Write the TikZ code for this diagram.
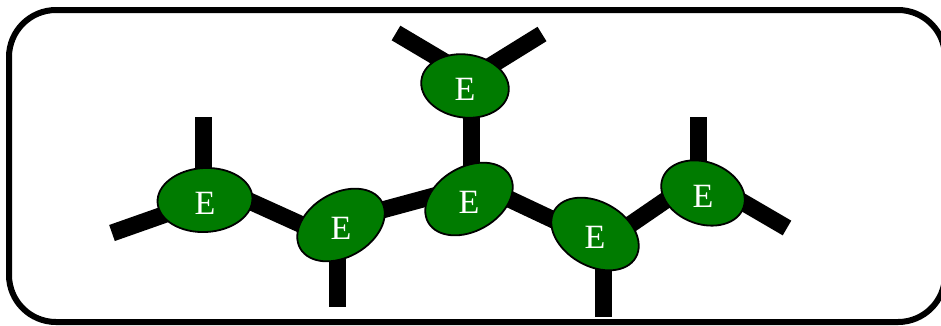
\documentclass[tikz,border=0pt]{standalone}
\usepackage{fontspec}
\setmainfont{Liberation Serif}
\usetikzlibrary{shapes.geometric,calc}
\pgfdeclarelayer{bg}
\pgfsetlayers{bg,main}
\definecolor{leafgreen}{RGB}{0,123,0}
\begin{document}
\begin{tikzpicture}[x=1pt,y=-1pt,
  blob/.style={ellipse, draw=black, line width=1.8pt, fill=leafgreen, inner sep=0pt},
  lbl/.style={text=white, font=\fontsize{34}{40}\selectfont, inner sep=0pt, yshift=-3pt},
  bond/.style={line width=17pt}]
\useasboundingbox (0,0) rectangle (941,325);
% frame
\draw[line width=6pt, rounded corners=47pt] (9,10) rectangle (945,322);

% units
\node[blob, minimum width=95pt, minimum height=64pt, rotate=3]   (E1) at (205,200) {};
\node[blob, minimum width=94pt, minimum height=64pt, rotate=30]  (E2) at (341,225) {};
\node[blob, minimum width=94pt, minimum height=64pt, rotate=30]  (E3) at (469,199) {};
\node[blob, minimum width=88pt, minimum height=63pt, rotate=-8]  (E4) at (465,86) {};
\node[blob, minimum width=94pt, minimum height=64pt, rotate=-30] (E5) at (595,234) {};
\node[blob, minimum width=86pt, minimum height=62pt, rotate=-20] (E6) at (703,193) {};

\foreach \n in {1,...,6} \node[lbl] (L\n) at (E\n.center) {E};

% free ends of the side arms
\coordinate (a1) at (203,117);
\coordinate (b1) at (112,233);
\coordinate (a2) at (337,307);
\coordinate (a4) at (396,33);
\coordinate (b4) at (542,34);
\coordinate (a5) at (603,317);
\coordinate (a6) at (698.5,117);
\coordinate (b6) at (787,228);

\begin{pgfonlayer}{bg}
  % backbone
  \draw[bond] ($(E1.center)+(20,-10)$) -- ($(E2.center)+(-21,8)$);
  \draw[bond] ($(E2.center)+(19,-9)$)  -- ($(E3.center)+(-24,-6)$);
  \draw[bond] ($(E3.center)+(2.5,0)$)  -- ($(E4.center)+(6.5,0)$);
  \draw[bond] ($(E3.center)+(21,-9)$)  -- ($(E5.center)+(-20,-4)$);
  \draw[bond] ($(E5.center)+(20,1)$)   -- ($(E6.center)+(-18,-6)$);
  % side arms
  \draw[bond] ($(E1.center)+(-2,0)$)   -- (a1);
  \draw[bond] ($(E1.center)+(-5,2)$)   -- (b1);
  \draw[bond] ($(E2.center)+(-4,0)$)   -- (a2);
  \draw[bond] ($(E4.center)+(-10,-18)$) -- (a4);
  \draw[bond] ($(E4.center)+(10,-10.5)$) -- (b4);
  \draw[bond] ($(E5.center)+(8,0)$)    -- (a5);
  \draw[bond] ($(E6.center)+(-4.5,0)$) -- (a6);
  \draw[bond] ($(E6.center)+(12,-7)$)  -- (b6);
\end{pgfonlayer}
\end{tikzpicture}
\end{document}
